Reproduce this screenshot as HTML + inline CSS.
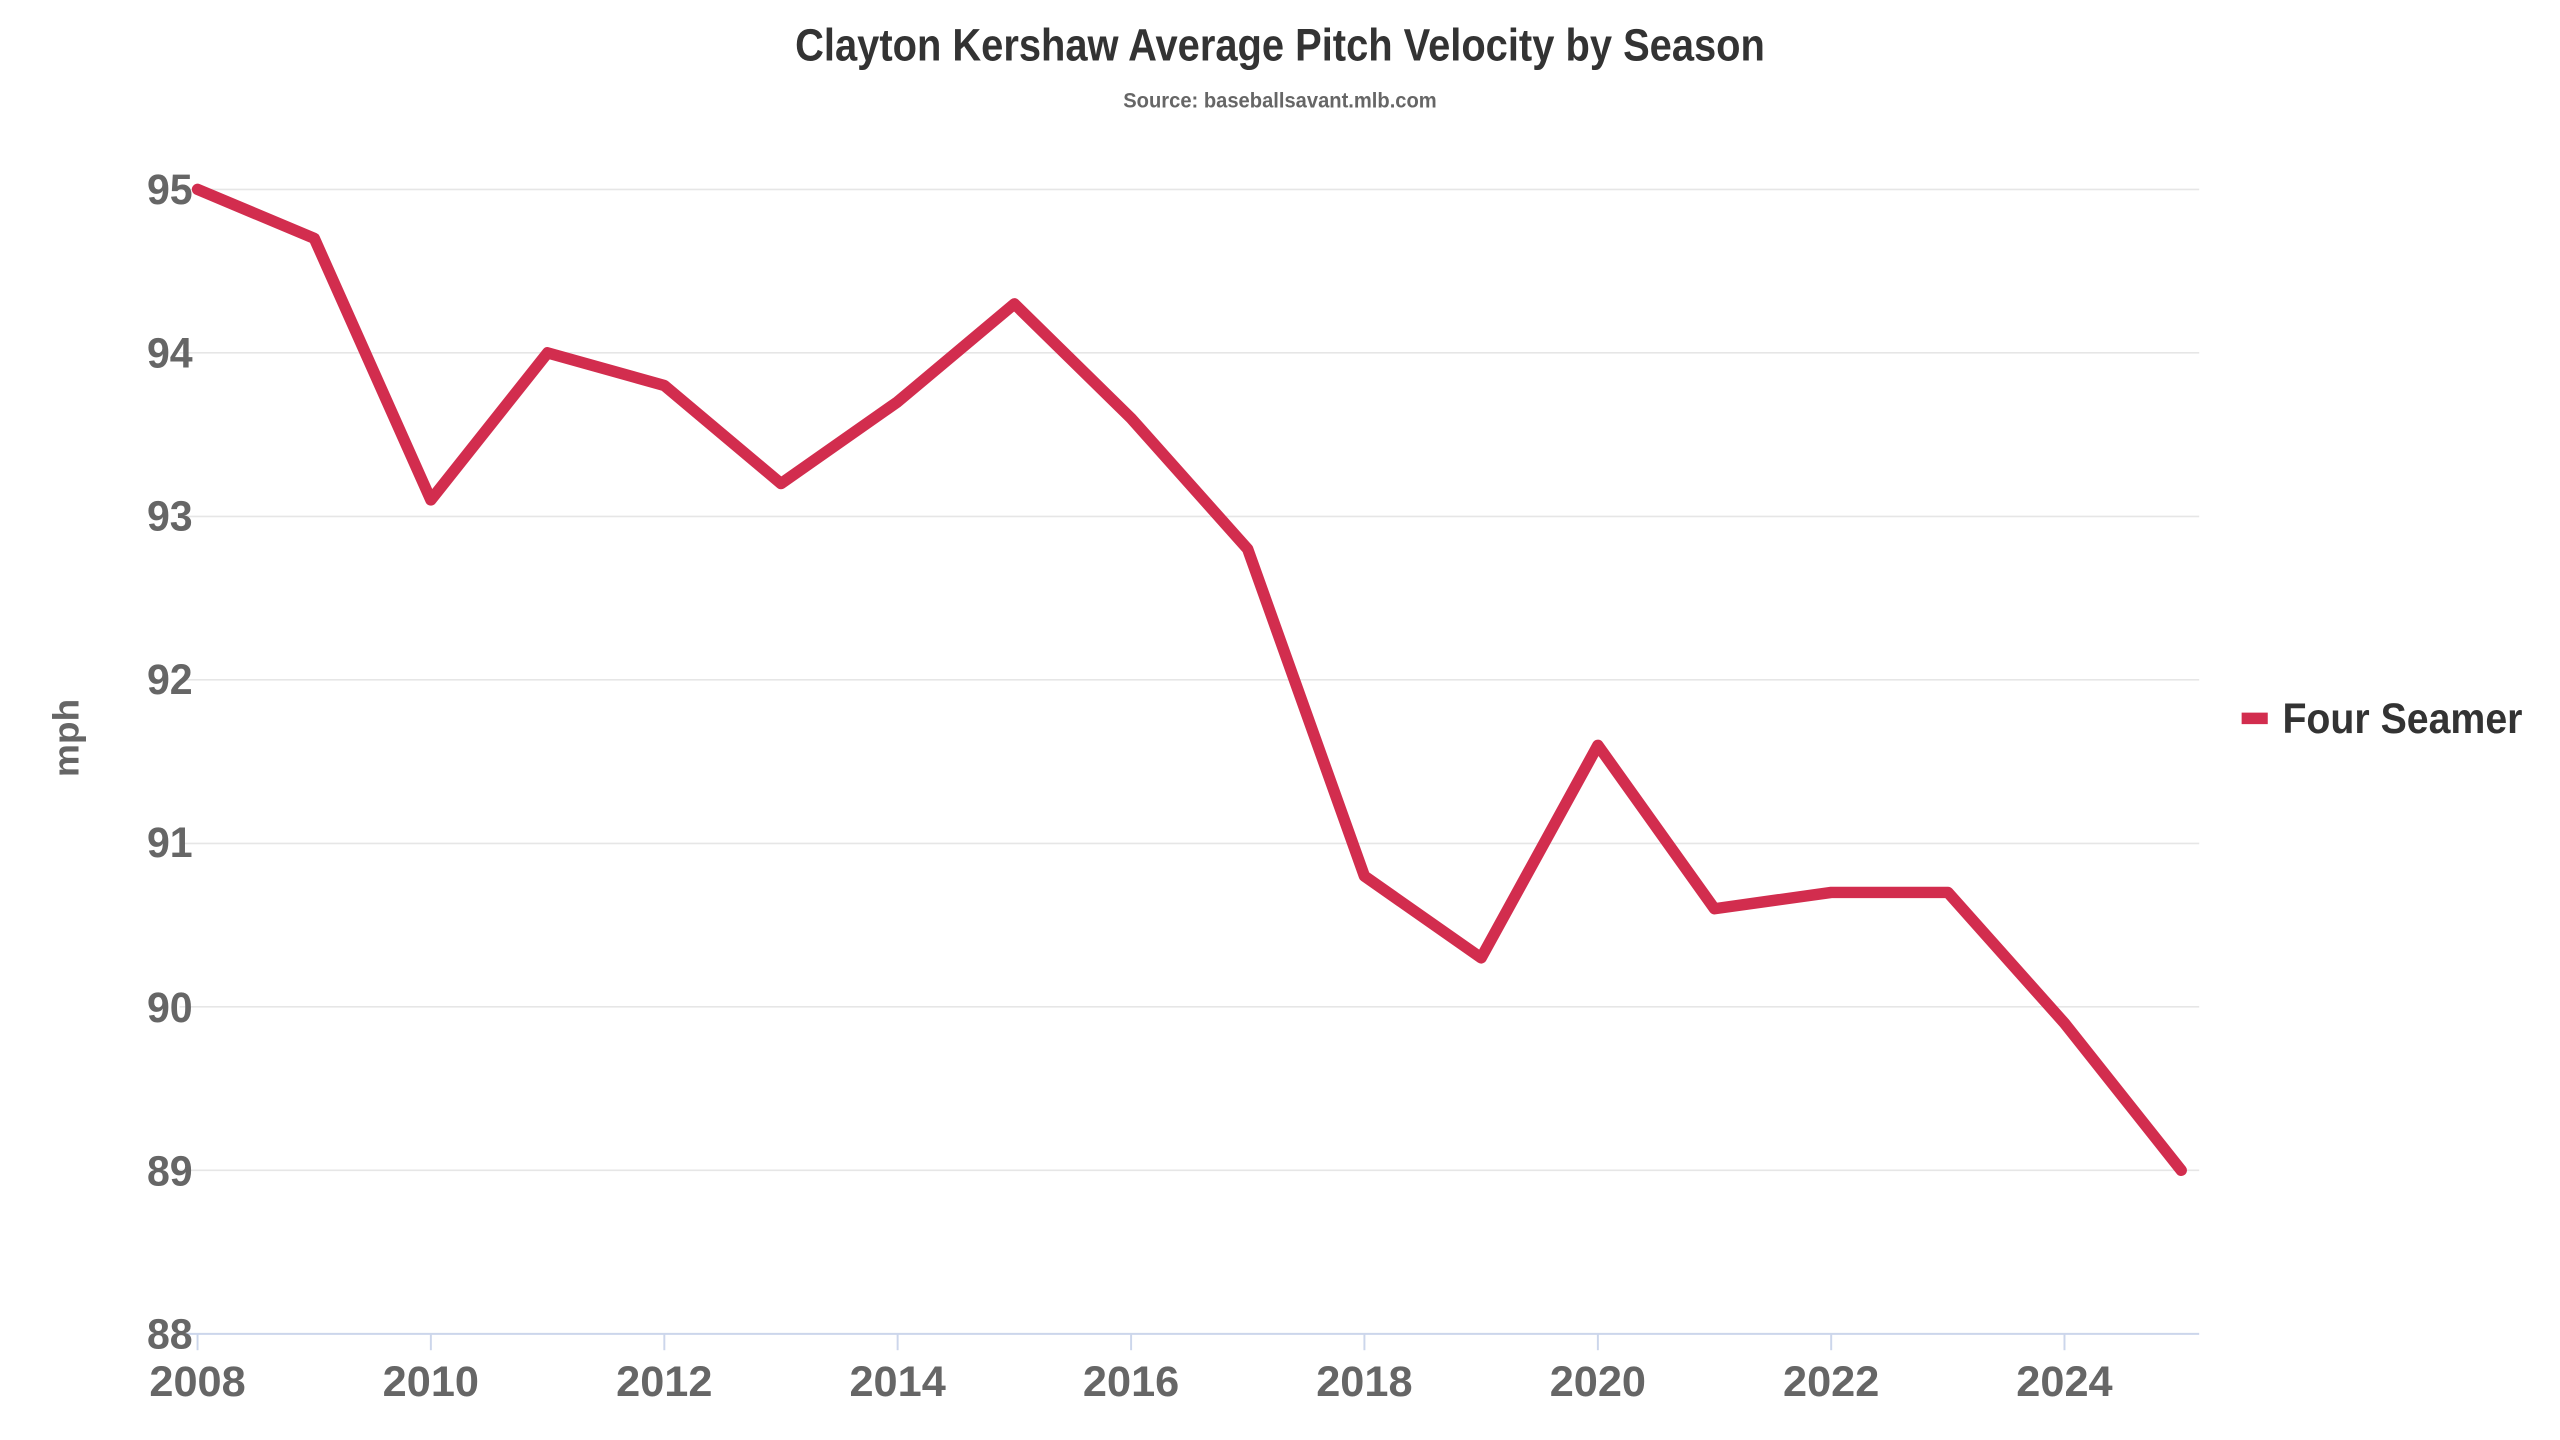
<!DOCTYPE html>
<html><head><meta charset="utf-8"><style>
html,body{margin:0;padding:0;background:#fff;}
svg{display:block;}
text{font-family:"Liberation Sans",sans-serif;font-weight:bold;}
</style></head><body>
<svg width="2560" height="1440" viewBox="0 0 1568 882" preserveAspectRatio="none" xmlns="http://www.w3.org/2000/svg">
<rect width="1568" height="882" fill="#fff"/>
<text x="784" y="37" text-anchor="middle" font-size="28" fill="#333" textLength="594" lengthAdjust="spacingAndGlyphs">Clayton Kershaw Average Pitch Velocity by Season</text>
<text x="784" y="66" text-anchor="middle" font-size="13" fill="#666" textLength="192" lengthAdjust="spacingAndGlyphs">Source: baseballsavant.mlb.com</text>
<g stroke="#e6e6e6" stroke-width="1">
<line x1="110" x2="1347" y1="116" y2="116"/>
<line x1="110" x2="1347" y1="216.1" y2="216.1"/>
<line x1="110" x2="1347" y1="316.3" y2="316.3"/>
<line x1="110" x2="1347" y1="416.4" y2="416.4"/>
<line x1="110" x2="1347" y1="516.6" y2="516.6"/>
<line x1="110" x2="1347" y1="616.7" y2="616.7"/>
<line x1="110" x2="1347" y1="716.8" y2="716.8"/>
</g>
<line x1="110" x2="1347" y1="817" y2="817" stroke="#ccd6eb" stroke-width="1.2"/>
<g stroke="#ccd6eb" stroke-width="1.2">
<line x1="121" x2="121" y1="817" y2="827"/><line x1="263.9" x2="263.9" y1="817" y2="827"/>
<line x1="406.9" x2="406.9" y1="817" y2="827"/><line x1="549.8" x2="549.8" y1="817" y2="827"/>
<line x1="692.8" x2="692.8" y1="817" y2="827"/><line x1="835.7" x2="835.7" y1="817" y2="827"/>
<line x1="978.7" x2="978.7" y1="817" y2="827"/><line x1="1121.6" x2="1121.6" y1="817" y2="827"/>
<line x1="1264.5" x2="1264.5" y1="817" y2="827"/>
</g>
<g font-size="26" fill="#666" text-anchor="end">
<text x="118" y="125" textLength="28" lengthAdjust="spacingAndGlyphs">95</text>
<text x="118" y="225" textLength="28" lengthAdjust="spacingAndGlyphs">94</text>
<text x="118" y="325" textLength="28" lengthAdjust="spacingAndGlyphs">93</text>
<text x="118" y="425" textLength="28" lengthAdjust="spacingAndGlyphs">92</text>
<text x="118" y="525" textLength="28" lengthAdjust="spacingAndGlyphs">91</text>
<text x="118" y="626" textLength="28" lengthAdjust="spacingAndGlyphs">90</text>
<text x="118" y="726" textLength="28" lengthAdjust="spacingAndGlyphs">89</text>
<text x="118" y="826" textLength="28" lengthAdjust="spacingAndGlyphs">88</text>
</g>
<g font-size="26" fill="#666" text-anchor="middle">
<text x="121" y="855" textLength="59" lengthAdjust="spacingAndGlyphs">2008</text>
<text x="263.9" y="855" textLength="59" lengthAdjust="spacingAndGlyphs">2010</text>
<text x="406.9" y="855" textLength="59" lengthAdjust="spacingAndGlyphs">2012</text>
<text x="549.8" y="855" textLength="59" lengthAdjust="spacingAndGlyphs">2014</text>
<text x="692.8" y="855" textLength="59" lengthAdjust="spacingAndGlyphs">2016</text>
<text x="835.7" y="855" textLength="59" lengthAdjust="spacingAndGlyphs">2018</text>
<text x="978.7" y="855" textLength="59" lengthAdjust="spacingAndGlyphs">2020</text>
<text x="1121.6" y="855" textLength="59" lengthAdjust="spacingAndGlyphs">2022</text>
<text x="1264.5" y="855" textLength="59" lengthAdjust="spacingAndGlyphs">2024</text>
</g>
<text transform="translate(48,452) rotate(-90)" text-anchor="middle" font-size="22" fill="#666" textLength="48" lengthAdjust="spacingAndGlyphs">mph</text>
<polyline fill="none" stroke="#d22d4e" stroke-width="7" stroke-linejoin="round" stroke-linecap="round"
points="121,116 192.5,146 263.9,306.2 335.4,216.1 406.9,236.1 478.4,296.2 549.8,246.1 621.3,186.1 692.8,256.2 764.2,336.3 835.7,536.6 907.2,586.7 978.7,456.5 1050.1,556.6 1121.6,546.6 1193.1,546.6 1264.5,626.7 1336,716.8"/>
<line x1="1373" x2="1389" y1="440" y2="440" stroke="#d22d4e" stroke-width="7"/>
<text x="1398" y="449" font-size="26" fill="#333" textLength="147" lengthAdjust="spacingAndGlyphs">Four Seamer</text>
</svg>
</body></html>
